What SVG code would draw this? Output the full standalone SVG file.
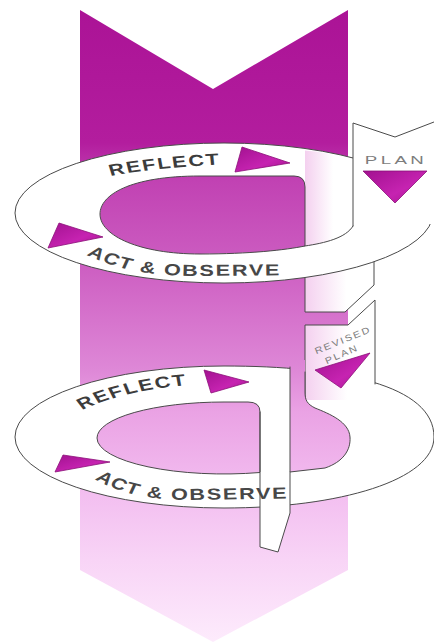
<svg xmlns="http://www.w3.org/2000/svg" width="434" height="643" viewBox="0 0 434 643">
<defs>
<style>
.ol{fill:none;stroke:#4a4a4a;stroke-width:1;stroke-linejoin:round;stroke-linecap:round}
.ring{fill:#fff;stroke:#4a4a4a;stroke-width:1}
.hole{fill:url(#col);stroke:#4a4a4a;stroke-width:1}
.w{fill:#fff}
.tri{fill:url(#tg);stroke:#8c1079;stroke-width:0.8;stroke-linejoin:round}
.lbl{font-family:"Liberation Sans",Arial,sans-serif;font-weight:bold;font-size:16px;fill:#474747;letter-spacing:1.3px}
.sm{font-family:"Liberation Sans",Arial,sans-serif;fill:#7d7d7d}
</style>
<linearGradient id="col" gradientUnits="userSpaceOnUse" x1="0" y1="10" x2="0" y2="642">
<stop offset="0" stop-color="#ab1396"/>
<stop offset="0.21" stop-color="#b31d9e"/>
<stop offset="0.27" stop-color="#c142b3"/>
<stop offset="0.40" stop-color="#cc5dc1"/>
<stop offset="0.46" stop-color="#d36cc9"/>
<stop offset="0.57" stop-color="#de88d7"/>
<stop offset="0.635" stop-color="#eaa2e4"/>
<stop offset="0.75" stop-color="#f2bbef"/>
<stop offset="0.87" stop-color="#f8d4f6"/>
<stop offset="1" stop-color="#fdebfc"/>
</linearGradient>
<linearGradient id="tint" x1="0" y1="0" x2="1" y2="0">
<stop offset="0" stop-color="#f4d0ef"/>
<stop offset="0.6" stop-color="#ffffff"/>
</linearGradient>
<linearGradient id="tg" x1="0" y1="0" x2="1" y2="1">
<stop offset="0" stop-color="#a21190"/>
<stop offset="0.6" stop-color="#c623b1"/>
<stop offset="1" stop-color="#a5138f"/>
</linearGradient>
<path id="t1" d="M82,176 Q118,167 172,164"/>
<path id="t2" d="M64,255 C85,268 107,276 148,276 L230,275"/>
<path id="t3" d="M61,410 Q96,388 150,384"/>
<path id="t4" d="M70,479 C89,493 107,500 144,500 L230,498"/>
</defs>

<g id="arrow">
<polygon points="80,10 213,89 348,10 348,570 213,642 80,570" fill="url(#col)"/>
</g>

<g id="connectors">
<g id="strip-a">
<polygon points="305,262 305,312 345,312 374,285 374,250" fill="url(#tint)"/>
<path class="ol" d="M305,270 L305,312 L345,312 L374,285 L374,255"/>
</g>
</g>

<g id="cycle1">
<ellipse class="ring" cx="224" cy="213" rx="209" ry="70"/>
<path d="M305,150.5 Q330,152.5 352,160 L352,226 C346,238 325,243 305,246 Z" fill="url(#tint)"/>
<path class="hole" d="M305,246 L305,187 Q305,176 294,176 L200,176 C130,176 100,195 100,214 C100,236 140,254 200,254 C250,254 285,250 305,246 Z"/>
<path class="ol" d="M305,246 C325,243 346,238 353,226"/>
</g>

<g id="plan">
<polygon class="w" points="353,123 395,137 434,122 434,224 353,224"/>
<path class="ol" d="M353,226 L353,123 L395,137 L434,122"/>
<text class="sm" transform="translate(396,164) scale(1.7,1)" font-size="11" text-anchor="middle" letter-spacing="2">PLAN</text>
<polygon class="tri" points="363,171 427,171 395,203"/>
</g>

<g id="reflect1">
<g transform="scale(1.35,1)"><text class="lbl" style="fill:#3c3c3c"><textPath href="#t1">REFLECT</textPath></text></g>
<polygon class="tri" points="242,147 290,163 235,172"/>
</g>

<g id="act1">
<g transform="scale(1.35,1)"><text class="lbl"><textPath href="#t2">ACT &amp; OBSERVE</textPath></text></g>
<polygon class="tri" points="48,248 59,223 103,237"/>
</g>

<g id="cycle2">
<path class="ring" d="M224,366 C340,366 434,385 434,437 C434,480 340,508 224,508 A209 71 0 0 1 15,437 A209 71 0 0 1 224,366 Z"/>
<polygon points="305,325 348,325 375,300 375,400 305,400" fill="url(#tint)"/>
<path class="ol" d="M305,400 L305,325 L348,325 L375,300 L375,384"/>
<path class="hole" d="M248,402 L224,402 A127 36 0 0 0 97,438 A127 36 0 0 0 260,472.5 L260,412 Q260,402 248,402 Z"/>
<path d="M290,360 L290,472 L325,468 C343,462 351,450 350,437 C349,422 330,414 315,408 C307,404 305,400 305,392 L305,360 Z" fill="url(#col)"/>
<path class="ol" d="M290,472 L325,468 C343,462 351,450 350,437 C349,422 330,414 315,408 C307,404 305,400 305,392 L305,372"/>
<polygon class="w" points="260,472 260,547 278,552 290,513 290,472"/>
<path class="ol" d="M260,412 L260,547 L278,552 L290,513 L290,367"/>
</g>

<g id="revised-plan">
<text class="sm" transform="translate(344,343) rotate(-22) scale(1.2,1)" font-size="9" text-anchor="middle" letter-spacing="1.5">REVISED</text>
<text class="sm" transform="translate(343,357) rotate(-24) scale(1.2,1)" font-size="9" text-anchor="middle" letter-spacing="1.5">PLAN</text>
<polygon class="tri" points="315,370 370,353 341,388"/>
</g>

<g id="reflect2">
<g transform="scale(1.35,1)"><text class="lbl" style="fill:#3c3c3c"><textPath href="#t3">REFLECT</textPath></text></g>
<polygon class="tri" points="204,370 249,382 211,393"/>
</g>

<g id="act2">
<g transform="scale(1.35,1)"><text class="lbl"><textPath href="#t4">ACT &amp; OBSERVE</textPath></text></g>
<polygon class="tri" points="55,472 63,455 110,462"/>
</g>
</svg>
